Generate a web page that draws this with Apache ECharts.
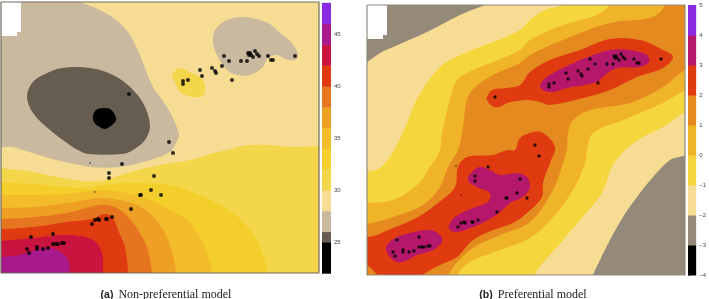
<!DOCTYPE html>
<html><head><meta charset="utf-8">
<style>html,body{margin:0;padding:0;background:#fff}#c{width:709px;height:299px}</style>
<script src="https://cdn.jsdelivr.net/npm/echarts@6/dist/echarts.min.js"></script>
</head><body><div id="c"></div>
<script>
// Spatial coordinates (east, north as drawn).
const breaksA = [22,25,26,28,30,32,34,36,38,40,42,44,46,48];
const colorsA = ['#000000','#665c50','#c9b99f','#f7dc94','#f4d64a','#f4cf2c','#f2bc2a','#eea024','#e5761f','#e03a10','#c8143f','#a81a8c','#8a2be2'];
const ticksA = [25,30,35,40,45];
const breaksB = [-4,-3,-2,-1,0,1,2,3,4,5];
const colorsB = ['#000000','#95897a','#f7dc94','#f5d63d','#f0b429','#e58a1f','#e03a10','#b5176b','#8a2be2'];
const ticksB = [-4,-3,-2,-1,0,1,2,3,4,5];

const hole = [[1,2],[21,2],[21,32],[17,32],[17,36],[1,36]];

// Panel (a) level regions
const a26 = [[-30,-30],[70,-30],[70,-2],[80,2],[100,10],[120,23],[133,40],[143,63],[153,87],[167,107],[176,125],[179,135],[176,143],[170,152],[150,160],[120,167],[90,167],[70,163],[45,157],[23,150],[13,147],[-30,143]];
const a26b = [[215,30],[227,20],[245,17],[268,23],[280,33],[292,43],[298,55],[295,60],[285,59],[277,55],[268,58],[263,67],[250,75],[237,75],[227,70],[218,57],[213,43]];
const a25 = [[27,97],[32,83],[43,75],[62,68],[90,68],[113,75],[130,87],[143,103],[150,125],[145,140],[133,150],[122,154],[88,154],[78,150],[67,143],[50,130],[33,113]];
const a22 = [[93,116],[96,110],[103,108],[110,109],[115,115],[116,120],[112,125],[105,129],[98,126],[94,122]];
const a30b = [[172,75],[180,68],[190,72],[203,80],[204,95],[193,97],[180,92],[175,82]];
const a30 = [[-30,165],[1,168],[33,172],[73,180],[100,181],[127,173],[160,165],[190,160],[213,153],[227,150],[237,147],[250,145],[270,145],[290,147],[319,146],[350,146],[350,320],[-30,320]];
const a32 = [[-30,181],[1,182],[33,184],[67,187],[85,188],[110,184],[140,183],[170,185],[187,190],[210,200],[233,213],[250,230],[260,247],[268,273],[272,320],[-30,320]];
const a34 = [[-30,195],[1,195],[33,195],[67,194],[100,190],[136,195],[157,203],[170,210],[187,220],[200,237],[207,253],[212,273],[214,320],[-30,320]];
const a36 = [[-30,209],[1,208],[33,207],[67,203],[100,198],[120,200],[143,208],[160,225],[170,245],[176,273],[177,320],[-30,320]];
const a38 = [[-30,220],[1,219],[33,217],[67,213],[100,205],[117,208],[128,217],[138,230],[147,247],[152,273],[153,320],[-30,320]];
const a40 = [[-30,230],[1,229],[33,227],[67,222],[92,219],[104,214],[112,217],[118,230],[125,247],[128,273],[129,320],[-30,320]];
const a42 = [[-30,242],[1,241],[33,238],[67,235],[93,240],[102,253],[103,273],[104,320],[-30,320]];
const a44 = [[-30,258],[1,257],[20,255],[43,248],[57,250],[67,258],[70,273],[71,320],[-30,320]];

// Panel (b) level regions
const b2a = [[330,-30],[510,-30],[510,-5],[485,5],[460,15],[427,32],[393,47],[380,53],[367,62],[330,80]];
const b2b = [[720,130],[685,155],[670,160],[653,177],[637,197],[623,217],[610,240],[600,260],[593,275],[580,310],[720,310]];
const b1 = [[330,180],[367,172],[380,168],[393,152],[407,123],[418,97],[440,67],[460,55],[493,42],[520,30],[530,20],[545,10],[562,5],[590,-15],[720,-30],[720,95],[685,112],[663,127],[643,137],[625,150],[612,167],[602,193],[580,220],[557,247],[537,270],[535,275],[520,310],[330,310]];
const b0 = [[330,205],[367,203],[393,200],[417,185],[430,167],[440,150],[442,133],[450,100],[457,80],[473,70],[493,62],[520,50],[530,40],[563,25],[597,15],[610,5],[625,-20],[720,-30],[720,75],[685,90],[663,103],[623,120],[593,133],[587,150],[585,163],[573,190],[553,217],[530,238],[500,250],[470,262],[458,275],[450,310],[330,310]];
const b01 = [[330,228],[367,224],[393,217],[423,205],[440,187],[448,167],[458,150],[463,127],[467,100],[475,87],[493,75],[520,63],[530,55],[563,40],[610,23],[653,17],[665,5],[672,-20],[720,-30],[720,55],[685,70],[663,87],[630,103],[590,110],[573,120],[568,133],[567,150],[563,163],[553,190],[530,222],[500,235],[470,250],[448,275],[435,310],[330,310]];
const b3up = [[487,97],[492,90],[507,88],[520,85],[530,72],[550,60],[580,50],[610,39],[640,40],[663,50],[673,57],[663,68],[637,77],[610,90],[583,98],[550,105],[540,102],[527,100],[507,103],[500,107],[492,106],[487,100]];
const b3low = [[340,230],[367,237],[393,228],[418,217],[438,203],[455,187],[458,167],[467,157],[493,155],[507,150],[515,150],[520,138],[533,132],[543,133],[555,147],[550,163],[543,183],[542,197],[527,213],[513,223],[493,230],[473,240],[457,257],[440,265],[423,275],[410,292],[385,292],[377,275],[367,265],[340,245]];
const b4a = [[386,248],[395,238],[410,233],[430,230],[440,235],[442,242],[433,250],[417,255],[403,262],[393,260]];
const b4b = [[449,225],[455,217],[473,208],[488,202],[490,193],[477,187],[468,180],[472,172],[480,167],[490,170],[500,175],[517,173],[527,177],[530,187],[523,197],[510,203],[500,212],[488,220],[473,227],[457,232],[450,230]];
const b4c = [[540,85],[547,77],[563,68],[588,57],[610,50],[630,50],[647,55],[649,62],[640,67],[617,68],[605,75],[597,82],[567,88],[553,92],[543,90]];

// Monitoring sites
const sitesA = [[224,56],[229,61],[241,61],[247,61],[248,53],[250,53],[249,55],[251,55],[253,57],[255,51],[257,54],[259,56],[268,56],[271,60],[273,60],[295,56],[200,70],[202,76],[212,68],[215,71],[216,73],[222,66],[232,80],[188,80],[183,81],[183,84],[129,94],[169,142],[173,153],[122,164],[109,173],[109,178],[154,176],[151,190],[140,195],[141,195],[161,195],[131,209],[112,217],[106,219],[107,219],[99,220],[98,219],[95,220],[92,224],[53,234],[31,237],[64,243],[62,243],[58,244],[56,244],[53,244],[48,248],[43,249],[37,247],[37,249],[27,249],[29,253]];
const sitesSmallA = [[95,192],[90,163]];
const sitesB = [[590,59],[595,64],[607,64],[613,64],[614,56],[616,56],[615,58],[617,58],[619,60],[621,54],[623,57],[625,59],[634,59],[637,63],[639,63],[661,59],[566,73],[568,79],[578,71],[581,74],[582,76],[588,69],[598,83],[554,83],[549,84],[549,87],[495,97],[535,145],[539,156],[488,167],[475,176],[475,181],[520,179],[517,193],[506,198],[507,198],[527,198],[497,212],[478,220],[472,222],[473,222],[465,223],[464,222],[461,223],[458,227],[419,237],[397,240],[430,246],[428,246],[424,247],[422,247],[419,247],[414,251],[409,252],[403,250],[403,252],[393,252],[395,256]];
const sitesSmallB = [[461,195],[456,166]];

const layersA = [
  [a26,2],[a26b,2],[a25,1],[a22,0],[a30b,4],[a30,4],[a32,5],[a34,6],[a36,7],[a38,8],[a40,9],[a42,10],[a44,11]
];
const layersB = [
  [b2a,1],[b2b,1],[b1,3],[b0,4],[b01,5],[b3up,6],[b3low,6],[b4a,7],[b4b,7],[b4c,7]
];

function regionSeries(idx, layers, palette, hole) {
  const items = layers.map(l => ({pts:l[0], fill:palette[l[1]], smooth:0.35}));
  items.push({pts:hole, fill:'#ffffff', smooth:0});
  return {
    type:'custom', xAxisIndex:idx, yAxisIndex:idx, coordinateSystem:'cartesian2d', silent:true, z:2, clip:true,
    data: items.map((_, i) => [i]),
    renderItem:(p, api) => {
      const it = items[api.value(0)];
      return {type:'polygon', shape:{points:it.pts.map(q => api.coord(q)), smooth:it.smooth}, style:{fill:it.fill}};
    }
  };
}
function frameSeries(idx, x0, x1, y0, y1, color) {
  return {
    type:'line', xAxisIndex:idx, yAxisIndex:idx, silent:true, z:6, symbol:'none', clip:false,
    lineStyle:{color:color, width:1.2},
    data:[[x0,y0],[x1,y0],[x1,y1],[x0,y1],[x0,y0]]
  };
}
function siteSeries(idx, pts, size) {
  return {type:'scatter', xAxisIndex:idx, yAxisIndex:idx, silent:true, z:5, symbol:'circle', symbolSize:size,
    itemStyle:{color:'#000'}, data:pts};
}
function barSeries(idx, breaks, colors) {
  return {
    type:'custom', xAxisIndex:idx, yAxisIndex:idx, coordinateSystem:'cartesian2d', silent:true, z:2,
    data: colors.map((_, i) => [i]),
    renderItem:(p, api) => {
      const i = api.value(0);
      const a = api.coord([0, breaks[i]]), b = api.coord([1, breaks[i+1]]);
      return {type:'rect', shape:{x:a[0], y:b[1], width:b[0]-a[0], height:a[1]-b[1]+0.5}, style:{fill:colors[i]}};
    }
  };
}
const hiddenAxis = (o) => Object.assign({type:'value', axisLine:{show:false}, axisTick:{show:false}, axisLabel:{show:false}, splitLine:{show:false}}, o);
const barY = (lo, hi, ticks) => ({type:'value', min:lo, max:hi, position:'right', splitLine:{show:false},
  axisLine:{show:false},
  axisTick:{show:true, length:2, inside:false, lineStyle:{color:'#555', width:0.7}, customValues:ticks},
  axisLabel:{show:true, fontSize:6, color:'#444', margin:3, fontFamily:'Liberation Sans', customValues:ticks, formatter:v => v < 0 ? '\u2212' + (-v) : String(v)}});
const capRich = {l:{fontFamily:'Liberation Sans', fontWeight:'bold', fontSize:10.5, color:'#222'}, t:{fontFamily:'Liberation Serif', fontWeight:'normal', fontSize:12, color:'#222'}};

const chart = echarts.init(document.getElementById('c'), null, {renderer:'canvas'});
chart.setOption({
  animation:false, backgroundColor:'#fff',
  title:[
    {left:166, top:286, padding:0, textAlign:'center', text:'{l|(a)} {t|Non-preferential model}', textStyle:{fontWeight:'normal', rich:capRich}},
    {left:533, top:286, padding:0, textAlign:'center', text:'{l|(b)} {t|Preferential model}', textStyle:{fontWeight:'normal', rich:capRich}}
  ],
  grid:[
    {left:1, top:2, width:318, height:271},
    {left:367, top:5, width:318, height:270},
    {left:322, top:2.8, width:9, height:270.4},
    {left:688, top:5, width:9, height:270}
  ],
  xAxis:[
    hiddenAxis({gridIndex:0, min:1, max:319}),
    hiddenAxis({gridIndex:1, min:367, max:685}),
    hiddenAxis({gridIndex:2, min:0, max:1}),
    hiddenAxis({gridIndex:3, min:0, max:1})
  ],
  yAxis:[
    hiddenAxis({gridIndex:0, min:2, max:273, inverse:true}),
    hiddenAxis({gridIndex:1, min:5, max:275, inverse:true}),
    Object.assign(barY(22,48,ticksA), {gridIndex:2}),
    Object.assign(barY(-4,5,ticksB), {gridIndex:3})
  ],
  series:[
    {type:'custom', xAxisIndex:0, yAxisIndex:0, silent:true, z:1, data:[[0]],
      renderItem:(p, api) => ({type:'polygon', shape:{points:[[1,2],[319,2],[319,273],[1,273]].map(q => api.coord(q))}, style:{fill:colorsA[3]}})},
    {type:'custom', xAxisIndex:1, yAxisIndex:1, silent:true, z:1, data:[[0]],
      renderItem:(p, api) => ({type:'polygon', shape:{points:[[367,5],[685,5],[685,275],[367,275]].map(q => api.coord(q))}, style:{fill:colorsB[2]}})},
    regionSeries(0, layersA, colorsA, hole),
    regionSeries(1, layersB, colorsB, hole.map(q => [q[0]+366, q[1]+3])),
    siteSeries(0, sitesA, 4), siteSeries(0, sitesSmallA, 1.5),
    siteSeries(1, sitesB, 3.4), siteSeries(1, sitesSmallB, 1.5),
    frameSeries(0, 1, 319, 2, 273, '#6e6a5e'),
    frameSeries(1, 367, 685, 5, 275, '#8f8c80'),
    barSeries(2, breaksA, colorsA),
    barSeries(3, breaksB, colorsB)
  ]
});
</script></body></html>
